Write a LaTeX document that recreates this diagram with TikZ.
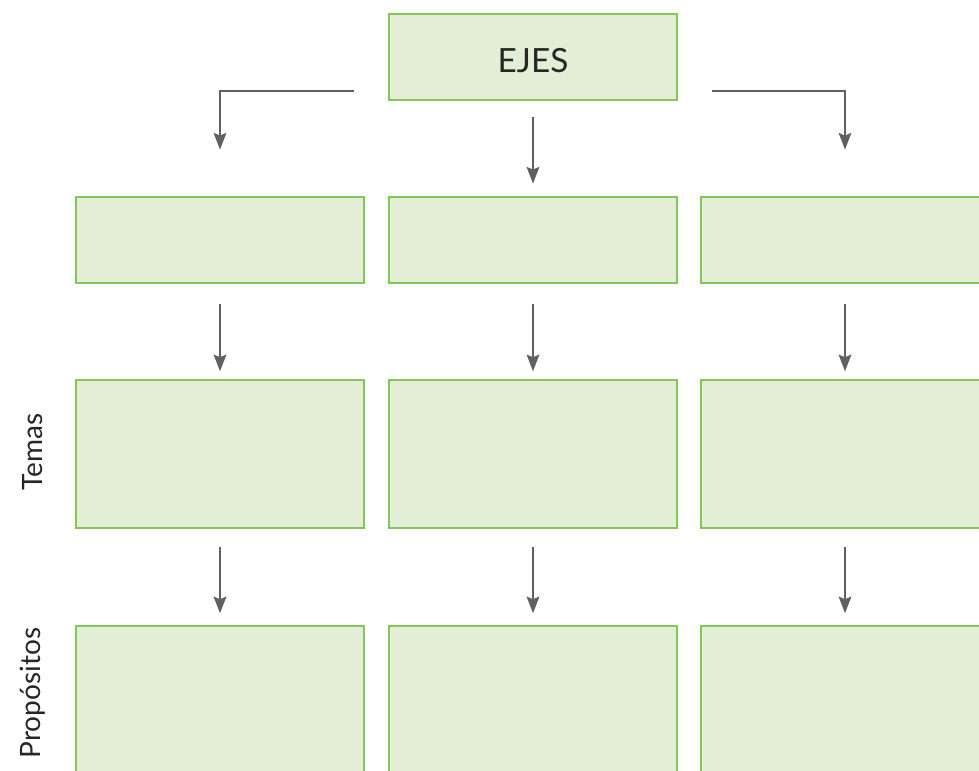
\documentclass[tikz,border=0pt]{standalone}
\usepackage{fontspec}
\setmainfont{Lato}
\usepackage{tikz}
\usetikzlibrary{arrows.meta}
\definecolor{boxfill}{RGB}{226,239,214}
\definecolor{boxline}{RGB}{128,200,88}
\definecolor{arrowgray}{RGB}{96,96,96}
\begin{document}
\begin{tikzpicture}[x=0.75pt,y=-0.75pt,
  box/.style={draw=boxline,fill=boxfill,line width=1.1pt,inner sep=0pt,minimum width=216pt},
  lowbox/.style={box,minimum height=64.5pt},
  tallbox/.style={box,minimum height=111pt},
  link/.style={draw=arrowgray,line width=1.5pt,-{Stealth[length=12.5pt,width=9.5pt,inset=2pt]}},
  sidelabel/.style={rotate=90,font=\fontsize{21}{24}\selectfont,text=black!85}]
\useasboundingbox (0,0) rectangle (979,771);
\clip (0,0) rectangle (979,771);
% top
\node[lowbox] (ejes) at (533,57) {};
\node[font=\fontsize{25}{30}\selectfont,text=black!85] (ejestext) at (533,61) {EJES};
% columns
\node[lowbox] (a1) at (220,240) {};
\node[lowbox] (b1) at (533,240) {};
\node[lowbox] (c1) at (845,240) {};
\node[tallbox] (a2) at (220,454) {};
\node[tallbox] (b2) at (533,454) {};
\node[tallbox] (c2) at (845,454) {};
\node[tallbox] (a3) at (220,700) {};
\node[tallbox] (b3) at (533,700) {};
\node[tallbox] (c3) at (845,700) {};
% side labels
\node[sidelabel] (temas) at (33,452) {Temas};
\node[sidelabel] (prop) at (33,693) {Propósitos};
% arrows from EJES
\coordinate (lstart) at (354,91);
\coordinate (rstart) at (712,91);
\draw[link,shorten >=35pt] (lstart) -| (a1.north);
\draw[link,shorten >=35pt] (rstart) -| (c1.north);
\draw[link,shorten <=12pt,shorten >=9.5pt] (ejes.south) -- (b1.north);
% arrows down the columns
\draw[link,shorten <=15pt,shorten >=6pt] (a1.south) -- (a2.north);
\draw[link,shorten <=15pt,shorten >=6pt] (b1.south) -- (b2.north);
\draw[link,shorten <=15pt,shorten >=6pt] (c1.south) -- (c2.north);
\draw[link,shorten <=13.5pt,shorten >=9pt] (a2.south) -- (a3.north);
\draw[link,shorten <=13.5pt,shorten >=9pt] (b2.south) -- (b3.north);
\draw[link,shorten <=13.5pt,shorten >=9pt] (c2.south) -- (c3.north);
\end{tikzpicture}
\end{document}
